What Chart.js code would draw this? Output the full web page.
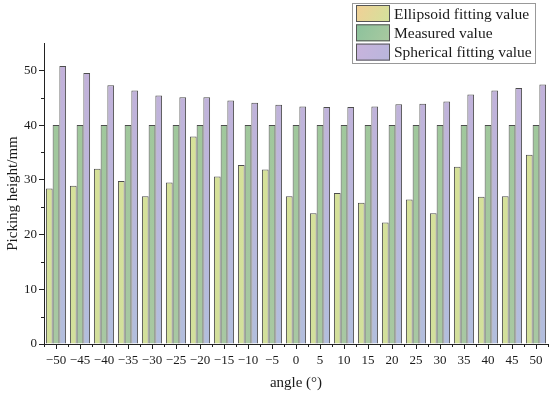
<!DOCTYPE html>
<html lang="en">
<head>
    <meta charset="utf-8">
    <title>Picking height by angle</title>
    <script src="https://cdn.jsdelivr.net/npm/chart.js"></script>
    <style>
        body { margin: 0; background: #fff; }
        #wrap { width: 550px; height: 396px; }
    </style>
</head>
<body>
<div id="wrap"><canvas id="myChart" width="550" height="396"></canvas></div>
<script>
    // chart data
    const angles = [-50, -45, -40, -35, -30, -25, -20, -15, -10, -5, 0, 5, 10, 15, 20, 25, 30, 35, 40, 45, 50];
    const ellipsoid = [28.4, 28.9, 32.0, 29.8, 27.0, 29.5, 37.9, 30.6, 32.7, 31.9, 27.0, 23.9, 27.6, 25.8, 22.2, 26.4, 23.9, 32.4, 26.9, 27.0, 34.6];
    const measured = [40, 40, 40, 40, 40, 40, 40, 40, 40, 40, 40, 40, 40, 40, 40, 40, 40, 40, 40, 40, 40];
    const spherical = [50.8, 49.5, 47.3, 46.3, 45.4, 45.1, 45.1, 44.5, 44.1, 43.7, 43.4, 43.3, 43.3, 43.4, 43.8, 43.9, 44.3, 45.6, 46.3, 46.8, 47.4];
    const yTicks = [0, 10, 20, 30, 40, 50];
    const seriesNames = ['Ellipsoid fitting value', 'Measured value', 'Spherical fitting value'];

    const labels = angles.map(a => a < 0 ? '\u2212' + Math.abs(a) : String(a));
    const serif = '"Liberation Serif", "Times New Roman", serif';

    function vgrad(top, bottom) {
        return function (ctx) {
            const area = ctx.chart.chartArea;
            if (!area) return top;
            const g = ctx.chart.ctx.createLinearGradient(0, area.top, 0, area.bottom);
            g.addColorStop(0, top);
            g.addColorStop(1, bottom);
            return g;
        };
    }

    // small ticks between the big ones, and the framed legend box
    const extras = {
        id: 'extras',
        afterDraw(chart) {
            const c = chart.ctx;
            const xs = chart.scales.x, ys = chart.scales.y;
            const area = chart.chartArea;
            c.save();
            c.strokeStyle = '#222';
            c.lineWidth = 1;
            const step = xs.getPixelForValue(1) - xs.getPixelForValue(0);
            c.beginPath();
            for (let i = 0; i <= angles.length; i++) {
                const px = Math.round(xs.getPixelForValue(0) - step / 2 + i * step) + 0.5;
                c.moveTo(px, area.bottom);
                c.lineTo(px, area.bottom + 3);
            }
            for (let v = 5; v < 55; v += 10) {
                const py = Math.round(ys.getPixelForValue(v)) + 0.5;
                c.moveTo(area.left, py);
                c.lineTo(area.left - 3, py);
            }
            c.stroke();

            // legend
            const lx = 352, ly = 3, lw = 183, lh = 60;
            c.fillStyle = '#fff';
            c.fillRect(lx, ly, lw, lh);
            c.strokeStyle = '#999';
            c.strokeRect(lx + 0.5, ly + 0.5, lw, lh);
            const swatches = [['#f2cf96', '#d2e29c'], ['#8cc29c', '#a9c9a0'], ['#c9b3dc', '#b8b6dc']];
            seriesNames.forEach((name, i) => {
                const sy = ly + 2 + i * 19.3;
                const g = c.createLinearGradient(lx + 4, sy, lx + 38, sy + 17);
                g.addColorStop(0, swatches[i][0]);
                g.addColorStop(1, swatches[i][1]);
                c.fillStyle = g;
                c.fillRect(lx + 4, sy, 34, 17);
                c.strokeStyle = '#555';
                c.strokeRect(lx + 4.5, sy + 0.5, 33, 16);
                c.fillStyle = '#1a1a1a';
                c.font = '15.5px ' + serif;
                c.textBaseline = 'middle';
                c.fillText(name, lx + 42, sy + 9.5);
            });
            c.restore();
        }
    };

    new Chart(document.getElementById('myChart'), {
        type: 'bar',
        data: {
            labels: labels,
            datasets: [{
                label: seriesNames[0],
                data: ellipsoid,
                backgroundColor: vgrad('#d8e298', '#d3e09c'),
                borderColor: '#4d4d4d',
                borderWidth: 1
            }, {
                label: seriesNames[1],
                data: measured,
                backgroundColor: vgrad('#9dc79a', '#a8c8a2'),
                borderColor: '#4d4d4d',
                borderWidth: 1
            }, {
                label: seriesNames[2],
                data: spherical,
                backgroundColor: vgrad('#c4b0da', '#b2bedd'),
                borderColor: '#4d4d4d',
                borderWidth: 1
            }]
        },
        options: {
            responsive: false,
            devicePixelRatio: 1,
            animation: false,
            layout: { padding: { top: 43, right: 2, left: 0, bottom: 0 } },
            datasets: { bar: { categoryPercentage: 0.84, barPercentage: 1 } },
            plugins: {
                legend: { display: false },
                tooltip: { enabled: false }
            },
            scales: {
                x: {
                    afterFit: s => { s.height = 52; },
                    grid: { offset: false, drawOnChartArea: false, tickLength: 5, color: '#222' },
                    border: { display: true, color: '#222', width: 1 },
                    ticks: {
                        autoSkip: false, maxRotation: 0, minRotation: 0, padding: 4,
                        color: '#1a1a1a', font: { family: serif, size: 13 }
                    },
                    title: {
                        display: true, text: 'angle (\u00b0)', color: '#1a1a1a',
                        font: { family: serif, size: 15 }, padding: { top: 2, bottom: 4 }
                    }
                },
                y: {
                    min: 0,
                    max: 55,
                    afterFit: s => { s.width = 44; },
                    afterBuildTicks: s => { s.ticks = yTicks.map(v => ({ value: v })); },
                    grid: { drawOnChartArea: false, tickLength: 5, color: '#222' },
                    border: { display: true, color: '#222', width: 1 },
                    ticks: {
                        padding: 2, color: '#1a1a1a', font: { family: serif, size: 13 }
                    },
                    title: {
                        display: true, text: 'Picking height/mm', color: '#1a1a1a',
                        font: { family: serif, size: 15 }, padding: { top: 4, bottom: 2 }
                    }
                }
            }
        },
        plugins: [extras]
    });
</script>
</body>
</html>
